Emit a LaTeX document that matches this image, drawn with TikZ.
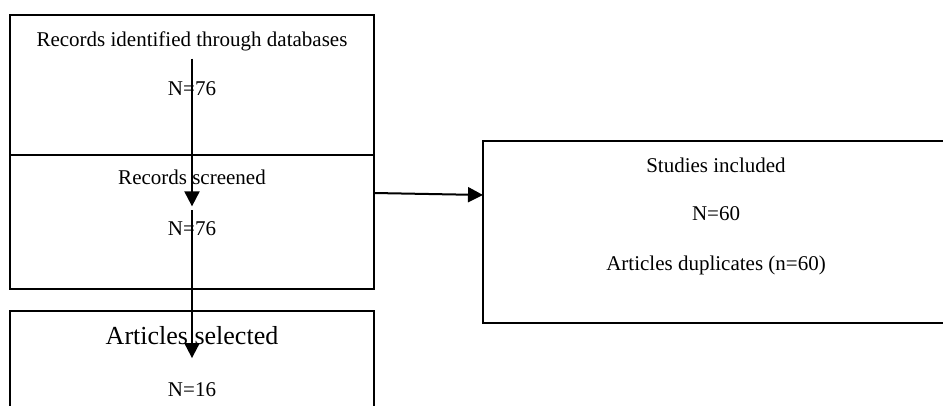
\documentclass[tikz,border=0pt]{standalone}
\usepackage{fontspec}
\setmainfont{Liberation Serif}
\usetikzlibrary{arrows.meta, positioning}
\tikzset{
    prisma/.style={line cap=butt, line join=miter,
                   font=\fontsize{10.5}{12}\selectfont},
    stage/.style={draw=black, line width=0.75pt, outer sep=0pt, inner sep=0pt,
                  minimum width=182pt},
    stagetext/.style={inner sep=3.5pt, align=center},
    arrow/.style={-{Triangle[width=7.5pt,length=7.5pt]}, line width=1pt, draw=black},
}

\begin{document}
\begin{tikzpicture}[prisma, x=0.5pt, y=-0.5pt]
\useasboundingbox (0,0) rectangle (943,406);
\clip (0,0) rectangle (943,406);

% --- left column: identification, screening, selection
\node[stage, minimum height=70pt, anchor=north west] (identified) at (10,15) {};
\node[stage, minimum height=67pt, below=0pt of identified] (screened) {};
\node[stage, minimum height=70pt, below=11pt of screened] (selected) {};

\node[stagetext, below=4.8pt of identified.north] (identifiedtitle)
    {Records identified through databases};
\node[stagetext, below=7.5pt of identifiedtitle] (identifiedn) {N=76};

\node[stagetext, below=3.9pt of screened.north] (screenedtitle) {Records screened};
\node[stagetext, below=11pt of screenedtitle] (screenedn) {N=76};

\node[stagetext, font=\fontsize{13}{15}\selectfont, below=4pt of selected.north]
    (selectedtitle) {Articles selected};
\node[stagetext, below=11.4pt of selectedtitle] (selectedn) {N=16};

% --- right column: included studies
\node[stage, minimum width=233pt, minimum height=91pt, anchor=north west]
    (included) at (483,141) {};
\node[stagetext, below=4.8pt of included.north] (includedtitle) {Studies included};
\node[stagetext, below=9.4pt of includedtitle] (includedn) {N=60};
\node[stagetext, below=10.2pt of includedn] (duplicates) {Articles duplicates (n=60)};

% --- arrows
\draw[arrow] (identifiedtitle.south) -- ([yshift=4pt]screenedn.north);
\draw[arrow] ([yshift=2pt]screenedn.north) -- ([yshift=-3pt]selectedtitle.south);
\draw[arrow] ([yshift=-19pt]screened.north east) -- ([yshift=-27pt]included.north west);

\end{tikzpicture}
\end{document}
